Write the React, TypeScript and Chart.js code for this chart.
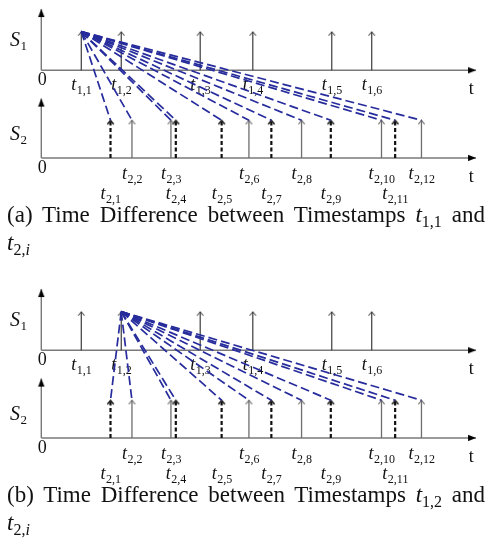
import React, { useEffect, useRef } from "react";
import { Chart, registerables } from "chart.js";

Chart.register(...registerables);

// ---------------- data ----------------
const s1Names = ["1,1", "1,2", "1,3", "1,4", "1,5", "1,6"];
const s1Times = [41, 82, 163, 217, 298, 339];
const s2Names = ["2,1", "2,2", "2,3", "2,4", "2,5", "2,6", "2,7", "2,8", "2,9", "2,10", "2,11", "2,12"];
const s2Times = [71, 93, 133, 138, 185, 213, 236, 267, 297, 349, 363, 390];
// dashed (thick black) impulses of S2; their labels sit on the lower row
const s2Dashed = [true, false, false, true, true, false, true, false, true, false, true, false];
const panelLetters = ["a", "b"];
const panelSources = [0, 1]; // index into s1Times used as the source of the blue lines
const axisEnd = 446;

// ---------------- layout ----------------
const W = 492;
const H = 216;
const X_MIN = -36;
const X_MAX = W - 36;
const PANEL_TOPS = [0, 280];
const CAPTION_TOPS = [202, 482];

const S1_BASE = 68;
const S1_TOP = 27;
const S1_AXIS_TOP = 3;
const S2_BASE = 161;
const S2_TOP = 121;
const S2_AXIS_TOP = 98;

const BLUE = "#272c9c";
const SERIF = '"Liberation Serif", "Times New Roman", serif';

function makeArrowHead(color: string) {
  const c = document.createElement("canvas");
  c.width = 8;
  c.height = 18;
  const g = c.getContext("2d")!;
  g.fillStyle = color;
  g.beginPath();
  g.moveTo(4, 9);
  g.lineTo(7.2, 17);
  g.lineTo(0.8, 17);
  g.closePath();
  g.fill();
  return c;
}

function makeChevron(color: string, lw: number) {
  const c = document.createElement("canvas");
  c.width = 9;
  c.height = 12;
  const g = c.getContext("2d")!;
  g.strokeStyle = color;
  g.lineWidth = lw;
  g.beginPath();
  g.moveTo(1.3, 10);
  g.lineTo(4.5, 6.2);
  g.lineTo(7.7, 10);
  g.stroke();
  return c;
}

function drawSub(
  ctx: CanvasRenderingContext2D,
  main: string,
  sub: string,
  x: number,
  baseline: number,
  mainFont: string,
  subFont: string,
  drop: number,
  align: "center" | "left"
) {
  ctx.font = mainFont;
  const w1 = ctx.measureText(main).width;
  ctx.font = subFont;
  const w2 = ctx.measureText(sub).width;
  const start = align === "center" ? x - (w1 + w2) / 2 : x;
  ctx.textAlign = "left";
  ctx.textBaseline = "alphabetic";
  ctx.fillStyle = "#111";
  ctx.font = mainFont;
  ctx.fillText(main, start, baseline);
  ctx.font = subFont;
  ctx.fillText(sub, start + w1 + 0.5, baseline + drop);
}

function Panel({ index }: { index: number }) {
  const ref = useRef<HTMLCanvasElement | null>(null);
  useEffect(() => {
    const canvas = ref.current!;
    const head = makeArrowHead("#000");
    const chevDark = makeChevron("#222", 1);
    const chevGray = makeChevron("#666", 1.1);
    const chevBold = makeChevron("#111", 1.4);
    const src = s1Times[panelSources[index]];

    const datasets: any[] = [];
    const seg = (a: any, b: any, extra: any) => ({
      data: [a, b],
      showLine: true,
      fill: false,
      tension: 0,
      clip: false,
      ...extra,
    });

    // blue dashed links (on top)
    s2Times.forEach((t) => {
      datasets.push(
        seg({ x: src, y: S1_TOP }, { x: t, y: S2_TOP }, {
          borderColor: BLUE,
          borderWidth: 1.7,
          borderDash: [9, 4],
          pointRadius: 0,
          order: 0,
        })
      );
    });

    // S1 impulses
    s1Times.forEach((t) => {
      datasets.push(
        seg({ x: t, y: S1_BASE }, { x: t, y: S1_TOP }, {
          borderColor: "#2a2a2a",
          borderWidth: 1.1,
          pointRadius: [0, 4],
          pointStyle: chevDark,
          order: 1,
        })
      );
    });

    // S2 impulses
    s2Times.forEach((t, i) => {
      const dashed = s2Dashed[i];
      datasets.push(
        seg({ x: t, y: S2_BASE }, { x: t, y: S2_TOP }, {
          borderColor: dashed ? "#111" : "#6e6e6e",
          borderWidth: dashed ? 2.2 : 1.3,
          borderDash: dashed ? [4, 2.5] : [],
          pointRadius: [0, 4],
          pointStyle: dashed ? chevBold : chevGray,
          order: 1,
        })
      );
    });

    // axes
    [
      [S1_BASE, S1_AXIS_TOP],
      [S2_BASE, S2_AXIS_TOP],
    ].forEach(([base, top]) => {
      datasets.push(
        seg({ x: 0, y: base }, { x: axisEnd, y: base }, {
          borderColor: "#7a7a7a",
          borderWidth: 1.4,
          pointRadius: [0, 4],
          pointStyle: head,
          pointRotation: 90,
          order: 2,
        })
      );
      datasets.push(
        seg({ x: 0, y: base }, { x: 0, y: top }, {
          borderColor: "#7a7a7a",
          borderWidth: 1.4,
          pointRadius: [0, 4],
          pointStyle: head,
          pointRotation: 0,
          order: 2,
        })
      );
    });

    const labels = {
      id: "labels",
      beforeDatasetsDraw(chart: any) {
        const { ctx } = chart;
        const xs = chart.scales.x;
        const ys = chart.scales.y;
        const px = (v: number) => xs.getPixelForValue(v);
        const py = (v: number) => ys.getPixelForValue(v);
        ctx.save();
        const tMain = `italic 18px ${SERIF}`;
        const tSub = `12px ${SERIF}`;
        // signal names
        drawSub(ctx, "S", "1", px(-32), py(42), `italic 20px ${SERIF}`, `13px ${SERIF}`, 4, "left");
        drawSub(ctx, "S", "2", px(-32), py(142), `italic 20px ${SERIF}`, `13px ${SERIF}`, 4, "left");
        // origins and t
        ctx.font = `18px ${SERIF}`;
        ctx.fillStyle = "#111";
        ctx.textAlign = "center";
        ctx.fillText("0", px(1), py(84));
        ctx.fillText("0", px(1), py(177));
        ctx.fillText("t", px(441), py(93));
        ctx.fillText("t", px(441), py(186));
        // S1 tick labels
        s1Times.forEach((t, i) => {
          drawSub(ctx, "t", s1Names[i], px(t), py(89), tMain, tSub, 4, "center");
        });
        // S2 tick labels
        s2Times.forEach((t, i) => {
          drawSub(ctx, "t", s2Names[i], px(t), py(s2Dashed[i] ? 205 : 183), tMain, tSub, 4, "center");
        });
        ctx.restore();
      },
    };

    const chart = new Chart(canvas, {
      type: "scatter",
      data: { datasets },
      options: {
        animation: false,
        responsive: false,
        devicePixelRatio: 1,
        events: [],
        layout: { padding: 0 },
        plugins: { legend: { display: false }, tooltip: { enabled: false } },
        scales: {
          x: { type: "linear", min: X_MIN, max: X_MAX, display: false },
          y: { type: "linear", min: 0, max: H, reverse: true, display: false },
        },
      },
      plugins: [labels],
    });
    return () => chart.destroy();
  }, [index]);

  return (
    <canvas
      ref={ref}
      width={W}
      height={H}
      style={{ position: "absolute", left: 0, top: PANEL_TOPS[index], width: W, height: H }}
    />
  );
}

function Caption({ index }: { index: number }) {
  const sub = { fontSize: 16, fontStyle: "normal" as const, position: "relative" as const, top: 5 };
  const srcName = s1Names[panelSources[index]];
  return (
    <div
      style={{
        position: "absolute",
        left: 7,
        top: CAPTION_TOPS[index],
        width: 478,
        fontFamily: SERIF,
        fontSize: 23,
        lineHeight: "26px",
        color: "#111",
      }}
    >
      <div style={{ textAlign: "justify", textAlignLast: "justify" as any, whiteSpace: "nowrap" }}>
        ({panelLetters[index]}) Time Difference between Timestamps{" "}
        <span>
          <i>t</i>
          <span style={sub}>{srcName}</span>
        </span>{" "}
        and
      </div>
      <div>
        <i>t</i>
        <span style={sub}>
          2,<i>i</i>
        </span>
      </div>
    </div>
  );
}

export default function App() {
  return (
    <div style={{ position: "absolute", left: 0, top: 0, width: W, height: 554, background: "#fff" }}>
      <Panel index={0} />
      <Caption index={0} />
      <Panel index={1} />
      <Caption index={1} />
    </div>
  );
}
